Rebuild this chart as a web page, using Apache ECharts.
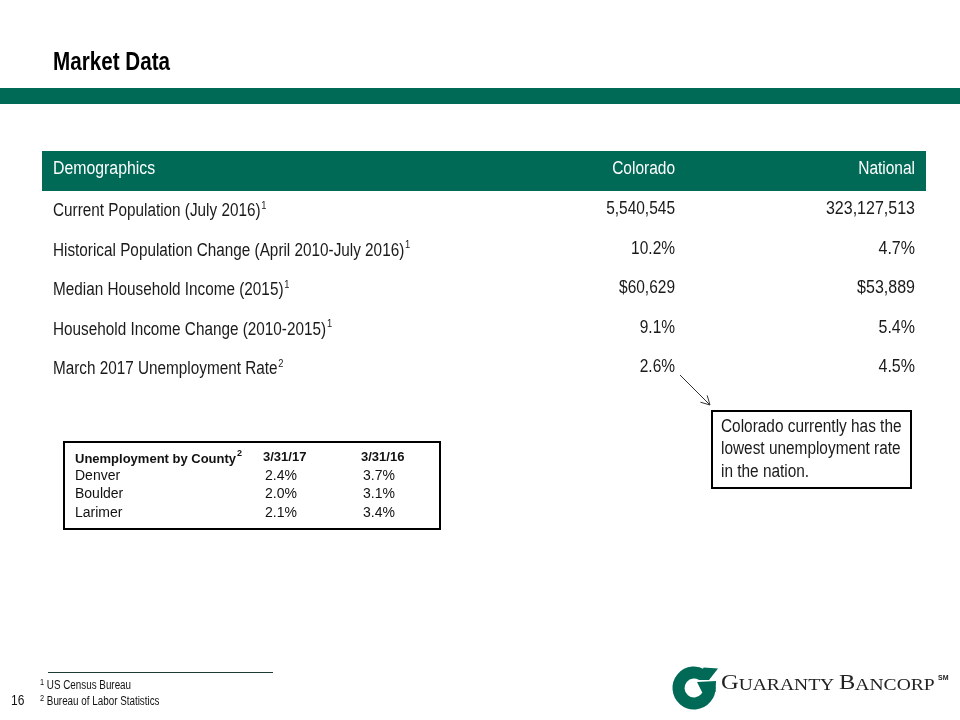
<!DOCTYPE html>
<html>
<head>
<meta charset="utf-8">
<script src="https://cdn.jsdelivr.net/npm/echarts@6/dist/echarts.min.js"></script>
<style>
  html, body { margin: 0; padding: 0; background: #fff; }
  #main { width: 960px; height: 720px; }
</style>
</head>
<body>
<div id="main"></div>
<script>
// demographics table
const headers = ['Demographics', 'Colorado', 'National'];
const rowLabels = [
  'Current Population (July 2016)',
  'Historical Population Change (April 2010-July 2016)',
  'Median Household Income (2015)',
  'Household Income Change (2010-2015)',
  'March 2017 Unemployment Rate'
];
const rowNotes = ['1', '1', '1', '1', '2'];
const coloradoValues = ['5,540,545', '10.2%', '$60,629', '9.1%', '2.6%'];
const nationalValues = ['323,127,513', '4.7%', '$53,889', '5.4%', '4.5%'];

// county table
const countyHeaders = ['Unemployment by County', '3/31/17', '3/31/16'];
const countyNames = ['Denver', 'Boulder', 'Larimer'];
const county2017 = ['2.4%', '2.0%', '2.1%'];
const county2016 = ['3.7%', '3.1%', '3.4%'];

const calloutLines = ['Colorado currently has the', 'lowest unemployment rate', 'in the nation.'];
const footnotes = ['US Census Bureau', 'Bureau of Labor Statistics'];

const GREEN = '#006A57';
const SANS = '"Liberation Sans", Arial, sans-serif';
const SERIF = '"Liberation Serif", "Times New Roman", serif';
const NARROW = 0.86; // squeeze Liberation Sans to look like Arial Narrow

// measure text so a few strings can be stretched to the width seen in the slide
var mctx = document.createElement('canvas').getContext('2d');
function textW(t, font) { mctx.font = font; return mctx.measureText(t).width; }

var chartDom = document.getElementById('main');
var myChart = echarts.init(chartDom, null, { renderer: 'canvas' });

var g = [];

// title + band
var titleFont = 'bold 25px ' + SANS;
g.push({ type: 'text', x: 53, y: 63, scaleX: 117 / textW('Market Data', titleFont), style: { text: 'Market Data', font: titleFont, fill: '#000', verticalAlign: 'middle' } });
g.push({ type: 'rect', shape: { x: 0, y: 88, width: 960, height: 16 }, style: { fill: GREEN } });

// header bar
g.push({ type: 'rect', shape: { x: 42, y: 151, width: 884, height: 40 }, style: { fill: GREEN } });
var hFont = '18px ' + SANS;
g.push({ type: 'text', x: 53, y: 169.5, scaleX: 0.88, style: { text: headers[0], font: hFont, fill: '#fff', verticalAlign: 'middle' } });
g.push({ type: 'text', x: 675, y: 169.5, scaleX: NARROW, style: { text: headers[1], font: hFont, fill: '#fff', align: 'right', verticalAlign: 'middle' } });
g.push({ type: 'text', x: 915, y: 169.5, scaleX: NARROW, style: { text: headers[2], font: hFont, fill: '#fff', align: 'right', verticalAlign: 'middle' } });

var rowY0 = 209.5, rowStep = 39.4;
var rFont = '18px ' + SANS;
rowLabels.forEach(function (lab, i) {
  var y = rowY0 + i * rowStep;
  g.push({ type: 'text', x: 53, y: y, scaleX: 0.85, style: {
    text: '{m|' + lab + '}{s|' + rowNotes[i] + '}',
    verticalAlign: 'middle',
    rich: {
      m: { font: rFont, fill: '#1a1a1a', lineHeight: 22, verticalAlign: 'bottom' },
      s: { font: '11px ' + SANS, fill: '#1a1a1a', lineHeight: 22, verticalAlign: 'top', padding: [2, 0, 0, 1] }
    }
  } });
  g.push({ type: 'text', x: 675, y: y, scaleX: NARROW, style: { text: coloradoValues[i], font: rFont, fill: '#1a1a1a', align: 'right', verticalAlign: 'middle' } });
  g.push({ type: 'text', x: 915, y: y, scaleX: 0.89, style: { text: nationalValues[i], font: rFont, fill: '#1a1a1a', align: 'right', verticalAlign: 'middle' } });
});

// county box
g.push({ type: 'rect', shape: { x: 64, y: 442, width: 376, height: 87 }, style: { fill: '#fff', stroke: '#000', lineWidth: 2 } });
var cx = [75, 263, 361];
g.push({ type: 'text', x: cx[0], y: 457, style: {
  text: '{m|' + countyHeaders[0] + '}{s|2}', verticalAlign: 'middle',
  rich: {
    m: { font: 'bold 13px ' + SANS, fill: '#111', lineHeight: 17, verticalAlign: 'bottom' },
    s: { font: 'bold 9px ' + SANS, fill: '#111', lineHeight: 17, verticalAlign: 'top', padding: [1, 0, 0, 1] }
  }
} });
g.push({ type: 'text', x: cx[1], y: 457, style: { text: countyHeaders[1], font: 'bold 13px ' + SANS, fill: '#111', verticalAlign: 'middle' } });
g.push({ type: 'text', x: cx[2], y: 457, style: { text: countyHeaders[2], font: 'bold 13px ' + SANS, fill: '#111', verticalAlign: 'middle' } });
countyNames.forEach(function (n, i) {
  var y = 476 + i * 18.5;
  [n, county2017[i], county2016[i]].forEach(function (t, j) {
    g.push({ type: 'text', x: cx[j] + (j ? 2 : 0), y: y, style: { text: t, font: '14px ' + SANS, fill: '#111', verticalAlign: 'middle' } });
  });
});

// callout
g.push({ type: 'rect', shape: { x: 712, y: 411, width: 199, height: 77 }, style: { fill: '#fff', stroke: '#000', lineWidth: 2 } });
calloutLines.forEach(function (t, i) {
  g.push({ type: 'text', x: 721, y: 427 + i * 22.5, scaleX: 0.855, style: { text: t, font: '18px ' + SANS, fill: '#1a1a1a', verticalAlign: 'middle' } });
});
var ax0 = 680, ay0 = 375, ax1 = 710, ay1 = 405;
var ang = Math.atan2(ay1 - ay0, ax1 - ax0), hl = 10;
g.push({ type: 'line', shape: { x1: ax0, y1: ay0, x2: ax1, y2: ay1 }, style: { stroke: '#333', lineWidth: 1 } });
g.push({ type: 'polyline', shape: { points: [
  [ax1 - hl * Math.cos(ang - 0.5), ay1 - hl * Math.sin(ang - 0.5)],
  [ax1, ay1],
  [ax1 - hl * Math.cos(ang + 0.5), ay1 - hl * Math.sin(ang + 0.5)]
] }, style: { stroke: '#333', lineWidth: 1, fill: null } });

// footnotes
g.push({ type: 'line', shape: { x1: 48, y1: 672.5, x2: 273, y2: 672.5 }, style: { stroke: '#1d3b34', lineWidth: 1 } });
footnotes.forEach(function (t, i) {
  g.push({ type: 'text', x: 40, y: 685 + i * 16, scaleX: 0.82, style: {
    text: '{s|' + (i + 1) + '}{m| ' + t + '}', verticalAlign: 'middle',
    rich: {
      m: { font: '12px ' + SANS, fill: '#111', lineHeight: 14, verticalAlign: 'bottom' },
      s: { font: '9px ' + SANS, fill: '#111', lineHeight: 14, verticalAlign: 'top' }
    }
  } });
});
g.push({ type: 'text', x: 11, y: 701, scaleX: 0.8, style: { text: '16', font: '15px ' + SANS, fill: '#111', verticalAlign: 'middle' } });

// logo mark
var lc = [694, 688];
g.push({ type: 'arc', shape: { cx: lc[0], cy: lc[1], r: 15.5, startAngle: -5 * Math.PI / 180, endAngle: 300 * Math.PI / 180, clockwise: true }, style: { stroke: GREEN, lineWidth: 12, fill: null } });
g.push({ type: 'polygon', shape: { points: [[698.5, 680], [703.5, 667.5], [718, 668.5], [709, 680]] }, style: { fill: GREEN } });
g.push({ type: 'polygon', shape: { points: [[697, 682], [716, 681], [715.5, 692], [702, 692]] }, style: { fill: GREEN } });

// logo wordmark
var bigF = '20px ' + SERIF, smF = '16px ' + SERIF;
var logoW = textW('G', bigF) * 2 + textW('UARANTY ', smF) + textW('ANCORP', smF);
g.push({ type: 'text', x: 721, y: 683, scaleX: 215 / logoW, style: {
  text: '{b|G}{s|UARANTY }{b|B}{s|ANCORP}', verticalAlign: 'middle',
  rich: {
    b: { font: bigF, fill: '#222', lineHeight: 22, verticalAlign: 'bottom' },
    s: { font: smF, fill: '#222', lineHeight: 22, verticalAlign: 'bottom' }
  }
} });
g.push({ type: 'text', x: 938, y: 678, style: { text: 'SM', font: 'bold 7px ' + SANS, fill: '#222', verticalAlign: 'middle' } });

var option = { animation: false, graphic: { elements: g } };
option && myChart.setOption(option);
</script>
</body>
</html>
